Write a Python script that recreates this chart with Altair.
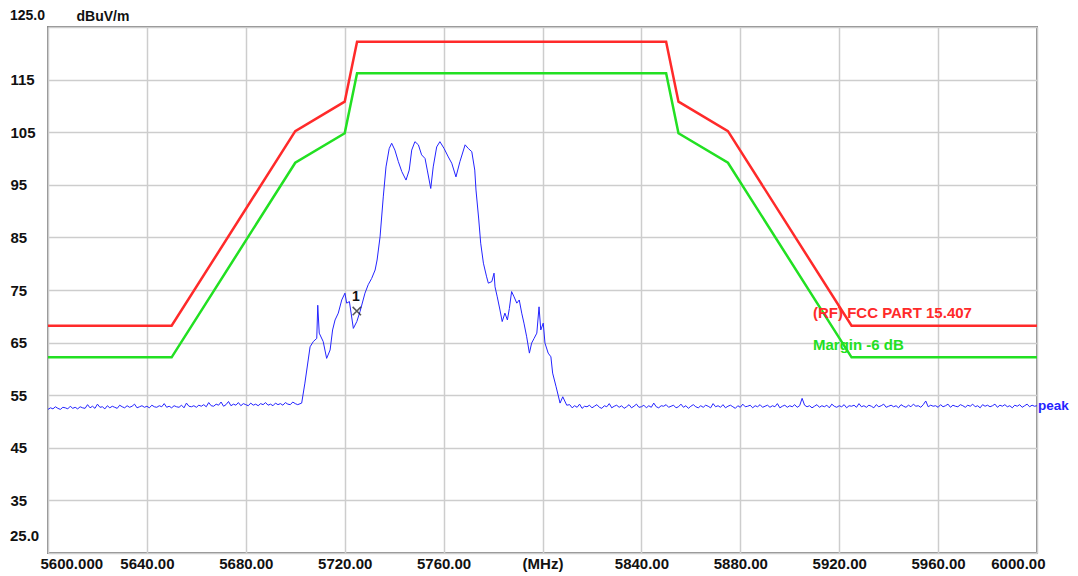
import altair as alt
import pandas as pd

FONT = "Liberation Sans"

# FCC limit and margin lines
limit_freq = [5600, 5650, 5700, 5720, 5725, 5850, 5855, 5875, 5925, 6000]
fcc_limit = [68.2, 68.2, 105.2, 110.8, 122.2, 122.2, 110.8, 105.2, 68.2, 68.2]
margin_limit = [62.2, 62.2, 99.2, 104.8, 116.2, 116.2, 104.8, 99.2, 62.2, 62.2]

# peak trace: noise floor left (5600..5701 MHz, 1 MHz step)
noise_left = [
    52.3, 52.6, 52.4, 52.8, 52.5, 52.3, 52.7, 52.6, 52.4, 52.9,
    52.5, 52.7, 52.4, 52.8, 52.6, 52.5, 53.2, 52.6, 52.9, 52.5,
    53.3, 52.7, 52.8, 52.4, 53.0, 52.6, 52.9, 52.7, 52.5, 53.1,
    52.8, 52.6, 53.0, 52.7, 52.9, 53.3, 52.6, 52.8, 53.0, 52.7,
    52.9, 52.6, 53.1, 52.8, 52.7, 53.0, 52.8, 53.4, 52.7, 52.9,
    52.6, 53.0, 52.8, 52.7, 53.1, 52.6, 53.5, 52.9, 52.8, 53.0,
    52.7, 53.1, 52.9, 53.2, 52.8, 53.6, 53.0, 52.9, 53.3, 53.1,
    53.7, 52.9, 53.2, 53.8, 53.0, 53.3, 53.1, 53.6, 53.0, 53.4,
    53.2, 53.0, 53.5, 53.1, 53.3, 53.0, 53.4, 53.2, 53.6, 53.1,
    53.3, 53.0, 53.5, 53.2, 53.4, 53.1, 53.6, 53.3, 53.2, 53.7,
    53.4, 53.2,
]
noise_left_start = 5600

# signal region
signal_freq = [
    5702.6, 5703.9, 5706.0, 5707.3, 5708.7, 5709.1, 5709.7, 5711.3, 5712.7, 5714.1,
    5715.1, 5716.1, 5717.4, 5718.8, 5720.1, 5720.8, 5721.9, 5723.5, 5724.9, 5726.2,
    5728.2, 5729.5, 5730.9, 5732.3, 5733.1, 5734.3, 5735.6, 5736.7, 5738.0, 5739.0,
    5740.3, 5741.7, 5743.1, 5744.8, 5746.1, 5747.1, 5748.4, 5749.8, 5751.1, 5752.5,
    5753.4, 5754.8, 5755.8, 5757.2, 5758.5, 5760.2, 5761.9, 5763.3, 5765.0, 5766.6,
    5768.7, 5770.0, 5771.4, 5772.6, 5773.1, 5774.2, 5775.0, 5776.1, 5777.4, 5778.1,
    5779.5, 5780.4, 5780.8, 5781.7, 5782.8, 5783.7, 5784.8, 5785.8, 5786.6, 5787.5,
    5788.5, 5789.6, 5790.6, 5791.6, 5792.5, 5793.6, 5794.7, 5795.6, 5796.6, 5797.7,
    5798.6, 5799.3, 5800.3, 5801.0, 5802.3, 5803.4, 5804.1, 5805.5, 5807.1, 5808.2,
    5809.8,
]
signal_level = [
    53.5, 57.3, 64.2, 65.2, 65.8, 72.1, 66.8, 65.2, 62.0, 63.6,
    67.4, 69.3, 70.6, 73.1, 74.4, 72.5, 72.8, 67.7, 69.0, 70.9,
    74.4, 76.0, 77.2, 78.8, 80.7, 85.1, 92.7, 98.4, 101.9, 102.9,
    101.6, 99.4, 97.5, 95.9, 97.8, 101.6, 103.2, 102.6, 100.7, 100.0,
    97.8, 94.3, 98.4, 102.2, 103.2, 101.9, 100.3, 99.1, 96.5, 99.4,
    102.6, 101.9, 101.3, 97.8, 94.0, 88.5, 83.9, 80.1, 77.5, 76.3,
    76.6, 78.2, 75.6, 73.7, 71.2, 69.0, 70.6, 69.3, 71.5, 74.7,
    73.7, 72.5, 73.1, 70.6, 68.7, 66.1, 63.0, 64.9, 65.8, 66.8,
    71.8, 67.4, 68.7, 64.9, 63.0, 62.3, 59.2, 56.6, 53.5, 54.7,
    53.1,
]

# noise floor right (5811..6000 MHz, 1 MHz step)
noise_right = [
    53.2, 52.6, 53.0, 52.7, 53.3, 52.5, 52.9, 52.8, 53.1, 52.6,
    52.9, 53.2, 52.7, 52.5, 53.0, 52.8, 53.4, 52.6, 52.9, 53.1,
    52.7, 53.0, 52.5, 52.8, 53.2, 52.6, 52.9, 53.3, 52.7, 52.8,
    53.1, 52.6, 53.0, 52.7, 53.5, 52.8, 52.6, 53.0, 52.9, 53.2,
    52.7, 52.9, 53.1, 52.6, 52.8, 53.3, 52.7, 53.0, 52.5, 52.9,
    53.2, 52.8, 52.6, 53.0, 52.7, 53.1, 52.9, 52.6, 53.4, 52.8,
    53.0, 52.7, 53.2, 52.6, 52.9, 53.1, 52.8, 52.5, 53.0, 52.7,
    53.3, 52.8, 52.9, 53.1, 52.6, 53.0, 52.8, 53.2, 52.7, 52.9,
    53.1, 52.7, 53.0, 52.8, 53.4, 52.6, 52.9, 53.1, 52.7, 53.0,
    52.8, 53.2, 52.7, 53.0, 54.4, 53.1, 52.8, 53.0, 52.6, 52.9,
    53.2, 52.7, 53.0, 52.8, 53.1, 52.6, 53.3, 52.9, 52.7, 53.0,
    52.8, 53.2, 52.6, 53.0, 52.9, 53.1, 52.7, 53.4, 52.8, 53.0,
    52.7, 53.1, 52.9, 52.6, 53.2, 52.8, 53.0, 53.3, 52.7, 52.9,
    53.1, 52.8, 53.0, 52.6, 53.2, 52.9, 52.7, 53.1, 52.8, 53.3,
    52.9, 53.0, 52.7, 53.2, 53.9, 52.8, 53.1, 52.9, 53.0, 52.7,
    53.2, 52.8, 53.0, 53.3, 52.7, 53.1, 52.9, 52.8, 53.2, 53.0,
    52.7, 53.1, 52.9, 53.3, 52.8, 53.0, 52.6, 53.2, 52.9, 53.1,
    52.8, 53.0, 53.3, 52.7, 53.1, 52.9, 53.2, 52.8, 53.0, 52.6,
    53.1, 52.9, 53.2, 52.7, 53.0, 53.3, 52.8, 53.1, 52.9, 53.0,
]
noise_right_start = 5811

x_ticks = [5600, 5640, 5680, 5720, 5760, 5800, 5840, 5880, 5920, 5960, 6000]
y_ticks = [25, 35, 45, 55, 65, 75, 85, 95, 105, 115, 125]

# marker 1
marker_freq = [5724.9]
marker_level = [71.0]

# build tables
trace_freq = ([noise_left_start + i for i in range(len(noise_left))]
              + signal_freq
              + [noise_right_start + i for i in range(len(noise_right))])
trace_level = noise_left + signal_level + noise_right
trace_df = pd.DataFrame({"f": trace_freq, "v": trace_level})
limit_df = pd.DataFrame({"f": limit_freq, "v": fcc_limit})
margin_df = pd.DataFrame({"f": limit_freq, "v": margin_limit})
marker_df = pd.DataFrame({"f": marker_freq, "v": marker_level})

xscale = alt.Scale(domain=[5600, 6000], nice=False, zero=False)
yscale = alt.Scale(domain=[25, 125], nice=False, zero=False)

X = alt.X("f:Q", scale=xscale, axis=alt.Axis(
    values=x_ticks, ticks=False, domain=False, grid=True, title=None,
    gridColor="#cdcdcd", gridWidth=1.5, labelPadding=3,
    labelFlush=True, labelFlushOffset=8,
    labelFont=FONT, labelFontSize=15, labelFontWeight="bold", labelColor="#111111",
    labelExpr="datum.value == 5600 ? '5600.000' : datum.value == 5800 ? '(MHz)' : format(datum.value, '.2f')",
))
Y = alt.Y("v:Q", scale=yscale, axis=alt.Axis(
    values=y_ticks, ticks=False, domain=False, grid=True,
    gridColor="#cdcdcd", gridWidth=1.5,
    labelAlign="left", labelPadding=38, labelBaseline="middle",
    labelFont=FONT, labelFontSize=15, labelFontWeight="bold", labelColor="#111111",
    labelExpr="(datum.value == 25 || datum.value == 125) ? '' : datum.value",
    title="dBuV/m", titleAngle=0, titleAlign="left", titleBaseline="middle",
    titleX=28, titleY=-11, titleFont=FONT, titleFontSize=14, titleFontWeight="bold",
    titleColor="#111111",
))

base_lines = alt.Chart(trace_df).mark_line(color="#2424ff", strokeWidth=1).encode(x=X, y=Y)
limit_line = alt.Chart(limit_df).mark_line(color="#ff2a2a", strokeWidth=2.5).encode(x="f:Q", y="v:Q")
margin_line = alt.Chart(margin_df).mark_line(color="#22e022", strokeWidth=2.5).encode(x="f:Q", y="v:Q")

def label(text, f, v, color, align="left", dx=0, dy=0, size=15):
    df = pd.DataFrame({"f": [f], "v": [v], "t": [text]})
    return alt.Chart(df).mark_text(
        align=align, baseline="middle", dx=dx, dy=dy, font=FONT, fontSize=size,
        fontWeight="bold", color=color,
    ).encode(x="f:Q", y="v:Q", text="t:N")

fcc_text = label("(RF) FCC PART 15.407", 5909.4, 70.6, "#ff2a2a")
margin_text = label("Margin -6 dB", 5909.4, 64.5, "#22e022")
peak_text = label("peak", 6000, 53.0, "#2424ff", dx=1, size=13.5)
marker_text = label("1", marker_freq[0], marker_level[0], "#111111", align="center", dx=-1, dy=-14, size=14)

ylab_top = alt.Chart(pd.DataFrame({"v": [125], "t": ["125.0"]})).mark_text(
    align="left", baseline="middle", dy=-11, font=FONT, fontSize=14, fontWeight="bold", color="#111111"
).encode(x=alt.value(-38), y=alt.Y("v:Q"), text="t:N")
ylab_bot = alt.Chart(pd.DataFrame({"v": [25], "t": ["25.0"]})).mark_text(
    align="left", baseline="middle", dy=-17, font=FONT, fontSize=15, fontWeight="bold", color="#111111"
).encode(x=alt.value(-38), y=alt.Y("v:Q"), text="t:N")

marker = alt.Chart(marker_df).mark_point(
    shape="M-1,-1L1,1M-1,1L1,-1", filled=False, color="#111111", strokeWidth=1.5, size=70
).encode(x="f:Q", y="v:Q")

chart = alt.layer(
    base_lines, limit_line, margin_line, fcc_text, margin_text, peak_text,
    marker, marker_text, ylab_top, ylab_bot,
).properties(
    width=989, height=526,
    padding={"left": 40, "top": 19, "right": 33, "bottom": 23},
    autosize=alt.AutoSizeParams(type="none"),
    background="white",
).configure_view(stroke="#8a8a8a", strokeWidth=2)

chart.save("out.html", embed_options={"renderer": "svg", "actions": False})
